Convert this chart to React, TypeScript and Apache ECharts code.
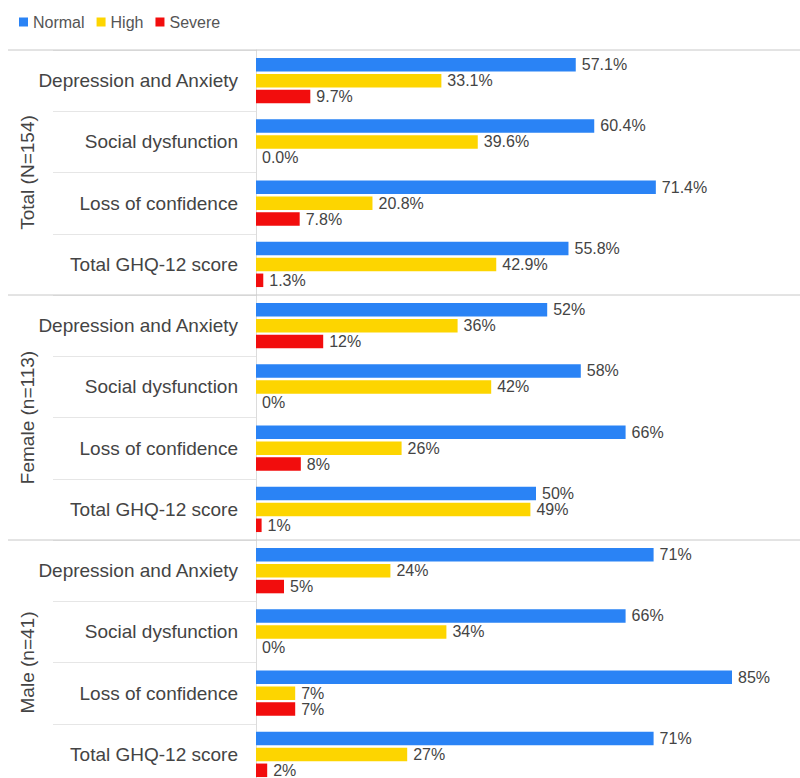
import React, { useEffect, useRef } from "react";
import * as echarts from "echarts";

const groups = ["Total (N=154)", "Female (n=113)", "Male (n=41)"];
const subcategories = [
  "Depression and Anxiety",
  "Social dysfunction",
  "Loss of confidence",
  "Total GHQ-12 score",
];
const labelDecimals = [1, 0, 0];
const seriesNames = ["Normal", "High", "Severe"];
const normalValues = [57.1, 60.4, 71.4, 55.8, 52, 58, 66, 50, 71, 66, 85, 71];
const highValues = [33.1, 39.6, 20.8, 42.9, 36, 42, 26, 49, 24, 34, 7, 27];
const severeValues = [9.7, 0.0, 7.8, 1.3, 12, 0, 8, 1, 5, 0, 7, 2];

const colors = ["#2a83f5", "#fdd500", "#f20d0d"];
const FONT = "'Liberation Sans', Arial, sans-serif";

export default function App() {
  const ref = useRef<HTMLDivElement>(null);

  useEffect(() => {
    if (!ref.current) return;
    const chart = echarts.init(ref.current, null, { renderer: "svg" });

    const gridLeft = 256;
    const gridTop = 50;
    const band = 61.25;
    const categories: string[] = [];
    groups.forEach(() => subcategories.forEach((s) => categories.push(s)));
    const gridHeight = band * categories.length;

    const fmt = (p: any) => {
      const g = Math.floor(p.dataIndex / subcategories.length);
      return Number(p.value).toFixed(labelDecimals[g]) + "%";
    };

    const mkSeries = (name: string, data: number[], color: string) => ({
      name,
      type: "bar",
      data,
      barWidth: 13.5,
      barGap: "18%",
      itemStyle: { color },
      label: {
        show: true,
        position: "right",
        distance: 6,
        formatter: fmt,
        fontSize: 16,
        lineHeight: 15,
        color: "#444",
        fontFamily: FONT,
      },
    });

    const graphic: any[] = [];
    groups.forEach((g, i) => {
      const y = gridTop + i * subcategories.length * band;
      graphic.push({
        type: "line",
        shape: { x1: 8, y1: y, x2: 800, y2: y },
        style: { stroke: "#c8c8c8", lineWidth: 1 },
        z: 10,
      });
      graphic.push({
        type: "text",
        x: 27,
        y: y + (subcategories.length * band) / 2,
        rotation: Math.PI / 2,
        style: {
          text: g,
          textAlign: "center",
          textVerticalAlign: "middle",
          fontSize: 19,
          fill: "#444",
          fontFamily: FONT,
        },
      });
    });

    chart.setOption({
      animation: false,
      legend: {
        left: 14,
        top: 9,
        icon: "rect",
        itemWidth: 9,
        itemHeight: 9,
        itemGap: 12,
        textStyle: { fontSize: 16, color: "#555", fontFamily: FONT },
        data: seriesNames,
      },
      grid: {
        left: gridLeft,
        top: gridTop,
        width: 560,
        height: gridHeight,
        containLabel: false,
        outerBoundsMode: "none",
      },
      xAxis: { type: "value", min: 0, max: 100, show: false },
      yAxis: {
        type: "category",
        inverse: true,
        data: categories,
        axisLine: { show: true, lineStyle: { color: "#dcdcdc" } },
        axisTick: {
          show: true,
          interval: 0,
          length: 203,
          lineStyle: { color: "#e6e6e6" },
        },
        axisLabel: {
          interval: 0,
          margin: 18,
          fontSize: 19,
          color: "#444",
          fontFamily: FONT,
        },
        splitLine: { show: false },
      },
      series: [
        mkSeries(seriesNames[0], normalValues, colors[0]),
        mkSeries(seriesNames[1], highValues, colors[1]),
        mkSeries(seriesNames[2], severeValues, colors[2]),
      ],
      graphic,
    });

    return () => chart.dispose();
  }, []);

  return (
    <div
      ref={ref}
      style={{ position: "absolute", left: 0, top: 0, width: 800, height: 778, background: "#fff" }}
    />
  );
}
